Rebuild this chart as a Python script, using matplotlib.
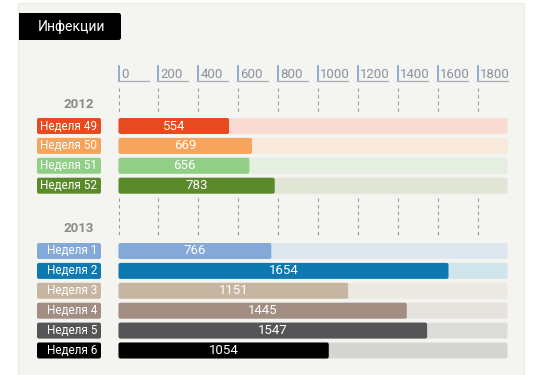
import matplotlib.pyplot as plt
from matplotlib.patches import FancyBboxPatch, Rectangle

plt.rcParams['font.family'] = ['Roboto', 'DejaVu Sans']

title = 'Инфекции'
years = ['2012', '2013']
weeks_2012 = ['Неделя 49', 'Неделя 50', 'Неделя 51', 'Неделя 52']
values_2012 = [554, 669, 656, 783]
colors_2012 = ['#e84a1f', '#f6a35c', '#92cf86', '#5b8a2b']
bgs_2012 = ['#f9dbd2', '#f8e9dc', '#e4efe2', '#e0e5d5']
weeks_2013 = ['Неделя 1', 'Неделя 2', 'Неделя 3', 'Неделя 4', 'Неделя 5', 'Неделя 6']
values_2013 = [766, 1654, 1151, 1445, 1547, 1054]
colors_2013 = ['#84a9d9', '#0e78b1', '#c5b5a1', '#a18d81', '#555557', '#000000']
bgs_2013 = ['#dde7ee', '#cfe4eb', '#ece9e3', '#e6e3df', '#dcdcdb', '#d5d5d2']
ticks = [0, 200, 400, 600, 800, 1000, 1200, 1400, 1600, 1800]
track_max = 1950

# layout (pixels)
W, H = 549, 375
x0 = 118.5
sx = 0.1995  # px per unit
bar_h = 16
pitch = 19.9

fig = plt.figure(figsize=(W / 100, H / 100), dpi=100)
ax = fig.add_axes([0, 0, 1, 1])
ax.set_xlim(-x0 / sx, (W - x0) / sx)
ax.set_ylim(H, 0)
ax.axis('off')

def ux(px):
    return (px - x0) / sx

# panel
ax.add_patch(Rectangle((ux(18), 3), ux(524) - ux(18), 380, facecolor='#f4f4f0',
                       edgecolor='#ecece8', lw=1, zorder=0))

# title box
ax.add_patch(FancyBboxPatch((ux(19), 13), ux(121) - ux(19), 27,
                            boxstyle='round,pad=0,rounding_size=12',
                            mutation_aspect=sx, facecolor='black', edgecolor='none', zorder=1))
ax.add_patch(Rectangle((ux(19), 13), 40, 27, facecolor='black', edgecolor='none', zorder=1))
ax.text(ux(38), 26.5, title, color='white', fontsize=10, ha='left', va='center', zorder=2)

# axis ticks
for t in ticks:
    ax.plot([t, t], [66, 81], color='#7f9fcf', lw=1.2, zorder=2)
    ax.plot([t, t + ux(148) - ux(118)], [81, 81], color='#a8acb4', lw=0.9, zorder=2)
    ax.text(t + 12, 74, str(t), color='#8892a0', fontsize=9.5, ha='left', va='center', zorder=3)
    ax.plot([t, t], [88, 112], color='#9a9a9a', lw=0.8, ls=(0, (3, 3)), zorder=1)
    ax.plot([t, t], [198, 238], color='#9a9a9a', lw=0.8, ls=(0, (3, 3)), zorder=1)

def rbox(x, y, w, color, z, r=10):
    ax.add_patch(FancyBboxPatch((x, y - bar_h / 2), w, bar_h,
                                boxstyle='round,pad=0,rounding_size=%g' % r,
                                mutation_aspect=sx, facecolor=color, edgecolor='none', zorder=z))

def group(year, year_y, first_y, weeks, values, colors, bgs):
    ax.text(ux(94), year_y, year, color='#8a8a8a', fontsize=9.5, fontweight='bold',
            ha='right', va='center')
    for i, (wk, v, c, bg) in enumerate(zip(weeks, values, colors, bgs)):
        y = first_y + i * pitch
        rbox(ux(37), y, ux(101) - ux(37), c, 2)
        ax.text(ux(97), y, wk, color='white', fontsize=8.5, ha='right', va='center', zorder=3)
        rbox(0, y, track_max, bg, 1)
        rbox(0, y, v, c, 2)
        ax.text(v / 2, y, str(v), color='white', fontsize=9.5, ha='center', va='center', zorder=3)

group(years[0], 105, 126, weeks_2012, values_2012, colors_2012, bgs_2012)
group(years[1], 228, 251, weeks_2013, values_2013, colors_2013, bgs_2013)

fig.savefig('out.png', dpi=100, facecolor='white')
